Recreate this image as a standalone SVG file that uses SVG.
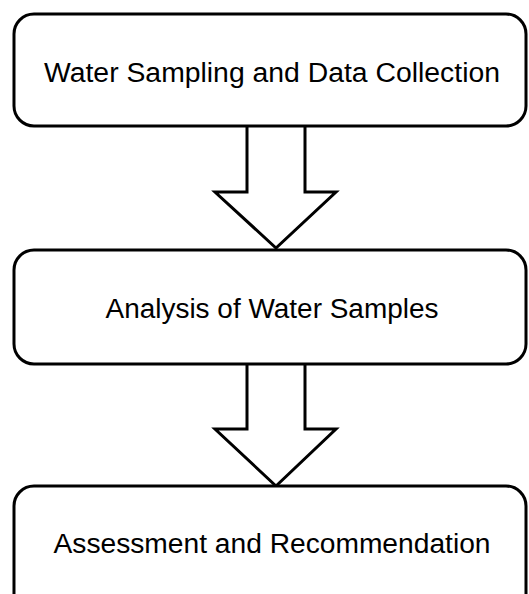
<svg xmlns="http://www.w3.org/2000/svg" width="529" height="594" viewBox="0 0 529 594">
<style>
.box{fill:#fff;stroke:#000;stroke-width:3}
.arr{fill:#fff;stroke:#000;stroke-width:3;stroke-linejoin:miter}
.t{font-family:"Liberation Sans",Arial,sans-serif;font-size:27px;fill:#000;text-anchor:middle}
</style>
<rect width="529" height="594" fill="#fff"/>
<g id="connectors">
<path class="arr" d="M247,126 V192 H215 L276,248 L336,192 H305 V126"/>
<path class="arr" d="M247,364 V429 H215 L276,486 L336,429 H305 V364"/>
</g>
<g id="n1"><rect class="box" x="14" y="14" width="512" height="112" rx="20"/><text class="t" x="272" y="82" textLength="456" lengthAdjust="spacingAndGlyphs">Water Sampling and Data Collection</text></g>
<g id="n2"><rect class="box" x="14" y="250" width="512" height="114" rx="20"/><text class="t" x="272" y="318" textLength="333" lengthAdjust="spacingAndGlyphs">Analysis of Water Samples</text></g>
<g id="n3"><rect class="box" x="14" y="486" width="512" height="130" rx="20"/><text class="t" x="272" y="553" textLength="437" lengthAdjust="spacingAndGlyphs">Assessment and Recommendation</text></g>
</svg>
